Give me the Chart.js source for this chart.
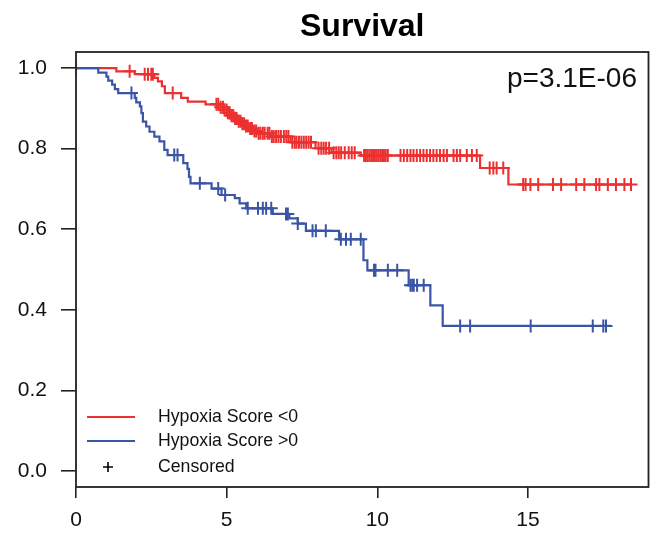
<!DOCTYPE html>
<html>
<head>
<meta charset="utf-8">
<script src="https://cdn.jsdelivr.net/npm/chart.js@4/dist/chart.umd.min.js"></script>
<style>
  html, body { margin: 0; padding: 0; background: #fff; }
</style>
</head>
<body>
<canvas id="grafico" width="657" height="533"></canvas>
<script>
// textos
const titulo = "Survival";
const pValor = "p=3.1E-06";
const etiquetas = ["Hypoxia Score <0", "Hypoxia Score >0", "Censored"];

// ejes
const xTicks = [0, 5, 10, 15];
const yTicks = [0, 0.2, 0.4, 0.6, 0.8, 1.0];

// Hypoxia Score <0 (rojo): tiempos de evento y supervivencia tras cada escalon
const rojoT = [1.34, 1.95, 2.6, 2.72, 2.85, 2.95, 3.49, 3.71, 4.30, 4.75, 4.90, 5.02, 5.12, 5.25, 5.38,
  5.50, 5.62, 5.76, 5.90, 6.02, 6.45, 7.12, 7.95, 8.48, 9.45, 13.41, 14.35];
const rojoS = [0.992, 0.985, 0.976, 0.967, 0.955, 0.938, 0.926, 0.917, 0.910, 0.903, 0.896, 0.889, 0.882, 0.875, 0.868,
  0.862, 0.856, 0.850, 0.844, 0.838, 0.830, 0.816, 0.801, 0.790, 0.783, 0.752, 0.711];
const rojoCensura = [0.0, 1.78, 2.28, 2.39, 2.50, 2.55, 3.21,
  4.66, 4.72, 4.80, 4.88, 4.93, 5.00, 5.04, 5.10, 5.16, 5.22, 5.28, 5.33, 5.40, 5.46, 5.52, 5.58, 5.64, 5.70,
  5.78, 5.84, 5.92, 5.98, 6.06, 6.12, 6.20, 6.26, 6.36, 6.42, 6.50, 6.56, 6.64, 6.72, 6.80, 6.90, 6.98, 7.05,
  7.18, 7.26, 7.32, 7.40, 7.48, 7.56, 7.64, 7.72, 7.80,
  8.05, 8.14, 8.22, 8.30, 8.40, 8.55, 8.64, 8.72, 8.80, 8.92, 9.05, 9.15, 9.25,
  9.56, 9.62, 9.68, 9.74, 9.80, 9.86, 9.92, 9.98, 10.04, 10.10, 10.16, 10.22, 10.28, 10.35,
  10.77, 10.88, 10.99, 11.10, 11.20, 11.31, 11.42, 11.53, 11.64, 11.75, 11.86, 11.97, 12.08, 12.20,
  12.31, 12.53, 12.64, 12.75, 12.97, 13.14, 13.30,
  13.73, 13.85, 13.96, 14.18,
  14.84, 14.92, 15.08, 15.34, 15.83, 16.10, 16.60, 16.87, 17.26, 17.37, 17.65, 17.92, 18.20, 18.42];
const rojoFin = 18.42;

// Hypoxia Score >0 (azul)
const azulT = [0.74, 1.01, 1.07, 1.20, 1.29, 1.40, 1.95, 2.00, 2.12, 2.17, 2.22, 2.33, 2.44, 2.60, 2.77,
  2.93, 3.04, 3.56, 3.70, 3.75, 3.80, 4.50, 4.83, 5.27, 5.43, 5.65, 6.53, 7.08, 7.36, 7.63, 8.73,
  9.54, 9.67, 11.04, 11.76, 12.17];
const azulS = [0.989, 0.979, 0.969, 0.959, 0.948, 0.938, 0.926, 0.915, 0.905, 0.888, 0.867, 0.855, 0.842, 0.830, 0.818,
  0.797, 0.784, 0.764, 0.750, 0.730, 0.714, 0.701, 0.685, 0.677, 0.664, 0.652, 0.638, 0.627, 0.614, 0.596, 0.575,
  0.523, 0.498, 0.461, 0.411, 0.360];
const azulCensura = [1.84, 3.26, 3.37, 4.11, 4.72, 4.95, 5.70, 6.04, 6.20, 6.31, 6.48, 6.97, 7.03, 7.36,
  7.85, 7.96, 8.29, 8.79, 8.96, 9.12, 9.45, 9.89, 9.94, 10.35, 10.66,
  11.10, 11.16, 11.21, 11.32, 11.54, 12.75, 13.08, 15.09, 17.15, 17.50, 17.59];
const azulFin = 17.75;

const rojo = "#ec3030";
const azul = "#3a54a6";

function escalones(ts, ss, fin) {
  const pts = [{ x: 0, y: 1 }];
  ts.forEach((t, i) => pts.push({ x: t, y: ss[i] }));
  pts.push({ x: fin, y: ss[ss.length - 1] });
  return pts;
}

// valor de la curva en el tiempo t
function valorEn(ts, ss, t) {
  let s = 1;
  ts.forEach((ti, i) => { if (ti <= t) s = ss[i]; });
  return s;
}

function marcas(ts, ss, cens) {
  return cens.map(t => ({ x: t, y: valorEn(ts, ss, t) }));
}

const extras = {
  id: "extras",
  afterDraw(chart) {
    const { ctx, chartArea: a } = chart;
    ctx.save();
    ctx.strokeStyle = "#222";
    ctx.lineWidth = 1.8;
    ctx.strokeRect(a.left, a.top, a.right - a.left, a.bottom - a.top);

    ctx.fillStyle = "#000";
    ctx.font = 'bold 32px "Liberation Sans", Arial, sans-serif';
    ctx.textAlign = "center";
    ctx.textBaseline = "alphabetic";
    ctx.fillText(titulo, (a.left + a.right) / 2, 36);

    ctx.fillStyle = "#111";
    ctx.font = '28px "Liberation Sans", Arial, sans-serif';
    ctx.textAlign = "right";
    ctx.fillText(pValor, 637, 87);

    // leyenda
    ctx.font = '17.7px "Liberation Sans", Arial, sans-serif';
    ctx.textAlign = "left";
    ctx.textBaseline = "middle";
    const filas = [417, 441, 467];
    ctx.lineWidth = 2;
    ctx.strokeStyle = rojo;
    ctx.beginPath(); ctx.moveTo(87, filas[0]); ctx.lineTo(135, filas[0]); ctx.stroke();
    ctx.strokeStyle = azul;
    ctx.beginPath(); ctx.moveTo(87, filas[1]); ctx.lineTo(135, filas[1]); ctx.stroke();
    ctx.strokeStyle = "#000";
    ctx.lineWidth = 1.6;
    ctx.beginPath();
    ctx.moveTo(103, filas[2]); ctx.lineTo(113, filas[2]);
    ctx.moveTo(108, filas[2] - 5); ctx.lineTo(108, filas[2] + 5);
    ctx.stroke();
    ctx.fillStyle = "#111";
    etiquetas.forEach((e, i) => ctx.fillText(e, 158, filas[i]));
    ctx.restore();
  }
};

Chart.defaults.font.family = '"Liberation Sans", Arial, sans-serif';

new Chart(document.getElementById("grafico").getContext("2d"), {
  type: "scatter",
  data: {
    datasets: [
      {
        data: escalones(azulT, azulS, azulFin),
        showLine: true, stepped: true,
        borderColor: azul, borderWidth: 2.2, pointRadius: 0, fill: false
      },
      {
        data: marcas(azulT, azulS, azulCensura),
        pointStyle: "cross", pointRadius: 6.5, pointBorderWidth: 2,
        borderColor: azul, backgroundColor: azul
      },
      {
        data: escalones(rojoT, rojoS, rojoFin),
        showLine: true, stepped: true,
        borderColor: rojo, borderWidth: 2.2, pointRadius: 0, fill: false
      },
      {
        data: marcas(rojoT, rojoS, rojoCensura),
        pointStyle: "cross", pointRadius: 6.5, pointBorderWidth: 2,
        borderColor: rojo, backgroundColor: rojo
      }
    ]
  },
  options: {
    responsive: false,
    animation: false,
    events: [],
    layout: { padding: { left: 0, right: 4, top: 52, bottom: 0 } },
    plugins: { legend: { display: false }, tooltip: { enabled: false }, title: { display: false } },
    scales: {
      x: {
        type: "linear", min: 0, max: 19,
        afterBuildTicks: s => { s.ticks = xTicks.map(v => ({ value: v })); },
        afterFit: s => { s.height = 46; },
        ticks: { color: "#111", font: { size: 21 }, padding: 10, maxRotation: 0 },
        grid: { drawOnChartArea: false, drawTicks: true, tickLength: 11, color: "#222", lineWidth: 1.6 },
        border: { display: false }
      },
      y: {
        type: "linear", min: -0.04, max: 1.04,
        afterBuildTicks: s => { s.ticks = yTicks.map(v => ({ value: v })); },
        afterFit: s => { s.width = 76; },
        ticks: { color: "#111", font: { size: 21 }, padding: 14, callback: v => v.toFixed(1) },
        grid: { drawOnChartArea: false, drawTicks: true, tickLength: 15, color: "#222", lineWidth: 1.6 },
        border: { display: false }
      }
    }
  },
  plugins: [extras]
});
</script>
</body>
</html>
